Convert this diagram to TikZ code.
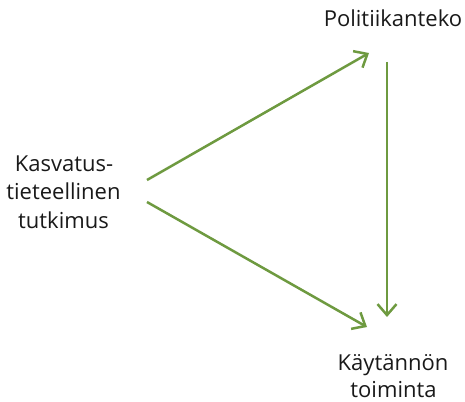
\documentclass[tikz,border=0pt]{standalone}
\usepackage{fontspec}
\setmainfont{Open Sans}
\usetikzlibrary{arrows.meta}
\definecolor{arrowgreen}{HTML}{6E9A40}
\begin{document}
\begin{tikzpicture}[x=1pt,y=-1pt,
  lbl/.style={font=\fontsize{22}{28}\selectfont, anchor=base, text=black!90, inner sep=0pt},
  conn/.style={draw=arrowgreen, line width=2.5pt, -{Straight Barb[length=11pt,width=19pt,line width=2.5pt]}}]
\useasboundingbox (0,0) rectangle (465,401);
\node[lbl] (pol) at (393,26.7) {Politiikanteko};
\node[lbl] (kas1) at (64,171) {Kasvatus-};
\node[lbl] (kas2) at (63.5,199.5) {tieteellinen};
\node[lbl] (kas3) at (63.5,228) {tutkimus};
\node[lbl] (kay1) at (393,370.5) {Käytännön};
\node[lbl] (kay2) at (393.5,397) {toiminta};
\coordinate (s1) at (147,180);
\coordinate (e1) at (369,53);
\coordinate (s2) at (147,202);
\coordinate (e2) at (367,327);
\coordinate (s3) at (387,62);
\coordinate (e3) at (387,317);
\draw[conn] (s1) -- (e1);
\draw[conn] (s2) -- (e2);
\draw[conn] (s3) -- (e3);
\end{tikzpicture}
\end{document}
